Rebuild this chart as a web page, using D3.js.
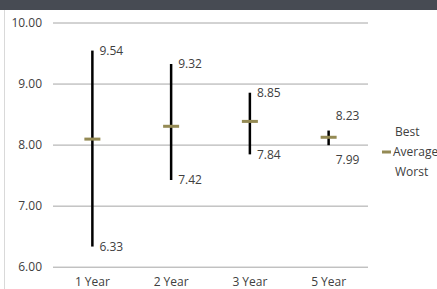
<!DOCTYPE html>
<html>
<head>
<meta charset="utf-8">
<script src="https://cdn.jsdelivr.net/npm/d3@7"></script>
<style>
  body { margin: 0; background: #fff; }
  svg { display: block; font-family: "Open Sans", sans-serif; }
</style>
</head>
<body>
<svg id="chart" width="437" height="289"></svg>
<script>
// data
const periods = ["1 Year", "2 Year", "3 Year", "5 Year"];
const best    = [9.54, 9.32, 8.85, 8.23];
const average = [8.09, 8.30, 8.38, 8.12];
const worst   = [6.33, 7.42, 7.84, 7.99];
const yTicks  = [6, 7, 8, 9, 10];
const legendItems = ["Best", "Average", "Worst"];

const svg = d3.select("#chart");
const plot = { left: 53, right: 368, top: 22.5, bottom: 266.7 };
const font = "Open Sans";

// dark strip on top + thin frame line at left
svg.append("rect").attr("x", 0).attr("y", 0).attr("width", 437).attr("height", 10).attr("fill", "#474b53");
svg.append("line").attr("x1", 4.5).attr("x2", 4.5).attr("y1", 10).attr("y2", 289)
  .attr("stroke", "#d9d9d9").attr("stroke-width", 1);

const x = d3.scaleBand().domain(periods).range([plot.left, plot.right]);
const y = d3.scaleLinear().domain([6, 10]).range([plot.bottom, plot.top]);

// y axis: gridlines + labels
const yAxis = svg.append("g")
  .attr("transform", `translate(${plot.left},0)`)
  .call(d3.axisLeft(y).tickValues(yTicks).tickFormat(d3.format(".2f"))
    .tickSize(-(plot.right - plot.left)).tickPadding(11));
yAxis.select(".domain").remove();
yAxis.selectAll(".tick line").attr("stroke", "#a6a6a6");
yAxis.selectAll(".tick text").attr("fill", "#404040").style("font-size", "12px")
  .attr("font-family", font);

// x axis labels
const xAxis = svg.append("g")
  .attr("transform", `translate(0,${plot.bottom})`)
  .call(d3.axisBottom(x).tickSize(0).tickPadding(11));
xAxis.select(".domain").remove();
xAxis.selectAll(".tick text").attr("fill", "#404040").style("font-size", "12px")
  .attr("font-family", font);

const rows = periods.map((p, i) => ({ p, hi: best[i], avg: average[i], lo: worst[i] }));
const cx = d => x(d.p) + x.bandwidth() / 2;

// hi-lo lines
svg.append("g").selectAll("line").data(rows).join("line")
  .attr("x1", cx).attr("x2", cx)
  .attr("y1", d => y(d.hi)).attr("y2", d => y(d.lo))
  .attr("stroke", "#000").attr("stroke-width", 2.5);

// average markers
svg.append("g").selectAll("rect").data(rows).join("rect")
  .attr("x", d => cx(d) - 8).attr("y", d => y(d.avg) - 1.5)
  .attr("width", 16).attr("height", 3)
  .attr("fill", "#948a54");

// labels, spread apart when best and worst are too close
const minGap = 44;
const labelPos = d => {
  let a = y(d.hi), b = y(d.lo);
  if (b - a < minGap) {
    const m = (a + b) / 2;
    a = m - minGap / 2; b = m + minGap / 2;
  }
  return [a, b];
};
const lbl = svg.append("g").attr("font-family", font).style("font-size", "12px").attr("fill", "#404040");
lbl.selectAll("text.hi").data(rows).join("text").attr("class", "hi")
  .attr("x", d => cx(d) + 7).attr("y", d => labelPos(d)[0])
  .attr("dy", "0.35em").text(d => d.hi.toFixed(2));
lbl.selectAll("text.lo").data(rows).join("text").attr("class", "lo")
  .attr("x", d => cx(d) + 7).attr("y", d => labelPos(d)[1])
  .attr("dy", "0.35em").text(d => d.lo.toFixed(2));

// legend
const leg = svg.append("g").attr("transform", "translate(382,132)");
legendItems.forEach((name, i) => {
  const g = leg.append("g").attr("transform", `translate(0,${i * 20})`);
  if (name === "Average") {
    g.append("rect").attr("x", 0).attr("y", -1.5).attr("width", 9).attr("height", 3).attr("fill", "#948a54");
  }
  g.append("text").attr("x", name === "Average" ? 11 : 13).attr("dy", "0.35em")
    .attr("font-family", font).style("font-size", "12px").attr("fill", "#404040").text(name);
});
</script>
</body>
</html>
